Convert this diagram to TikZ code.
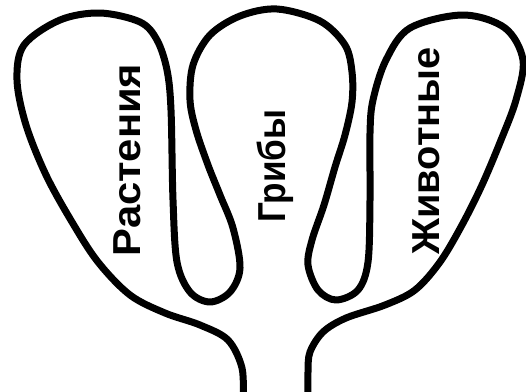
\documentclass[tikz,border=0pt]{standalone}
\usepackage{fontspec}
\usepackage{graphicx}
\setmainfont{Liberation Sans}

\begin{document}
\begin{tikzpicture}[
  x=1pt, y=-1pt,
  outline/.style={line width=7pt, line join=round, line cap=round},
  kingdom/.style={rotate=90, anchor=base, inner sep=0pt,
                  font=\fontsize{39}{40}\selectfont\bfseries}
]
  \useasboundingbox (0,0) rectangle (526,391);

  % one stroke: stem, three petals, stem
  \draw[outline] plot[smooth, tension=0.55] coordinates {
    (243,400) (242,368) (228,340) (200,325) (165,313) (130,295)
    (98,262) (72,222) (46,175) (26,125) (17,80) (24,45) (60,20) (100,13)
    (140,22) (157,40) (167,70) (171,110) (173,200) (177,262) (190,292)
    (210,302) (230,292) (240,268) (233,228) (220,195) (208,165) (196,130)
    (190,100) (193,65) (210,35) (240,16) (277,9) (320,21) (345,45)
    (352,72) (352,102) (345,135) (335,167) (324,205) (312,240) (308,265)
    (318,290) (336,300) (358,290) (368,262) (370,200) (370,133) (373,100)
    (386,60) (410,28) (463,15) (505,28) (523,60) (516,100) (501,140)
    (482,185) (462,225) (440,262) (415,290) (385,305) (346,318)
    (323,332) (310,352) (308,372) (308,400)};

  \node[kingdom] (plants) at (140,160) {\scalebox{1.07}[1]{Растения}};
  \node[kingdom] (fungi) at (285,166) {\scalebox{0.9}[1]{Грибы}};
  \node[kingdom] (animals) at (439,151) {\scalebox{1.02}[1]{Животные}};
\end{tikzpicture}
\end{document}
